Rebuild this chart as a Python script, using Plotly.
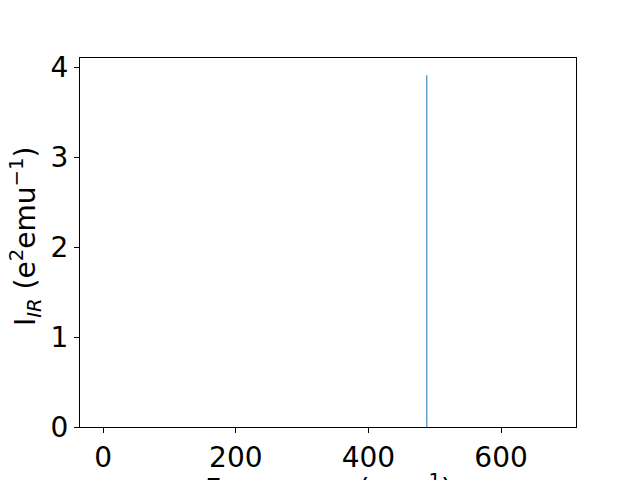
import plotly.graph_objects as go

# Data: IR stick spectrum
frequencies = [488.0]
intensities = [3.91]

x_ticks = [0, 200, 400, 600]
y_ticks = [0, 1, 2, 3, 4]

xs, ys = [], []
for f, i in zip(frequencies, intensities):
    xs += [f, f, None]
    ys += [0, i, None]

fig = go.Figure(go.Scatter(x=xs, y=ys, mode="lines",
                           line=dict(color="#1f77b4", width=1),
                           showlegend=False, hoverinfo="skip"))

font = dict(family="DejaVu Sans", size=28, color="black")
axis_common = dict(showgrid=False, zeroline=False, showline=True, mirror=True,
                   linecolor="black", linewidth=1, ticks="outside", ticklen=5,
                   tickcolor="black", tickwidth=1, tickfont=font,
                   automargin=False)

# page body has an 8px margin: figure is 632x472 placed at (8, 8)
fig.update_layout(
    width=632, height=472,
    margin=dict(l=72, r=64, t=50, b=53),
    paper_bgcolor="white", plot_bgcolor="white",
    xaxis=dict(range=[-35, 713], tickvals=x_ticks, **axis_common),
    yaxis=dict(range=[0, 4.1], tickvals=y_ticks, **axis_common),
    annotations=[
        dict(text="Frequency (cm<sup>−1</sup>)", xref="paper", yref="paper",
             x=0.5, y=0, xanchor="center", yanchor="top", yshift=-40,
             showarrow=False, font=font),
        dict(text="I<sub><i>IR</i></sub> (e<sup>2</sup>emu<sup>−1</sup>)",
             xref="paper", yref="paper", x=(26 - 80) / 496, y=0.515,
             xanchor="center", yanchor="middle", textangle=-90,
             showarrow=False, font=font),
    ],
)

fig.write_html("out.html")
